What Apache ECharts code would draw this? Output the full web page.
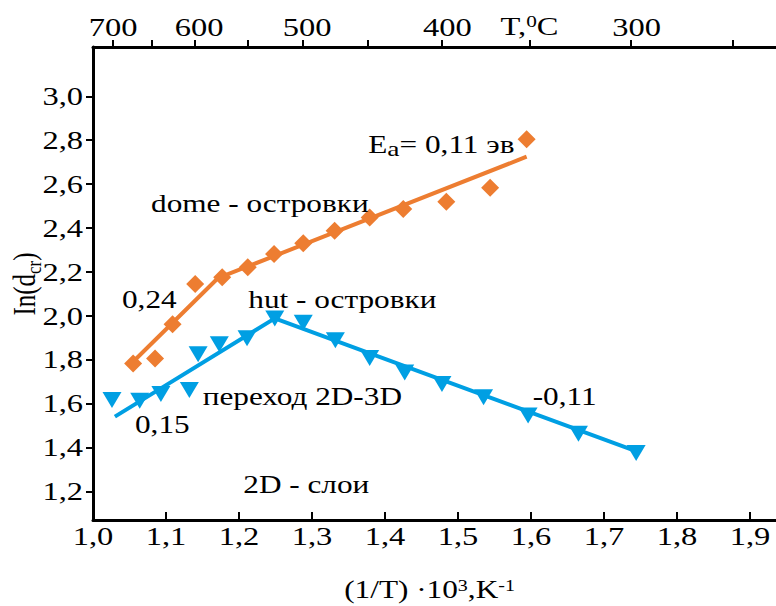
<!DOCTYPE html>
<html><head><meta charset="utf-8">
<script src="https://cdn.jsdelivr.net/npm/echarts@6.0.0/dist/echarts.min.js"></script>
<style>html,body{margin:0;padding:0;background:#fff;}#chart{width:776px;height:606px;}</style>
</head><body><div id="chart"></div>
<script>
// ---- tick labels ----
const xTickValues = [1.0, 1.1, 1.2, 1.3, 1.4, 1.5, 1.6, 1.7, 1.8, 1.9];
const xTickLabels = ['1,0', '1,1', '1,2', '1,3', '1,4', '1,5', '1,6', '1,7', '1,8', '1,9'];
const yTickValues = [1.2, 1.4, 1.6, 1.8, 2.0, 2.2, 2.4, 2.6, 2.8, 3.0];
const yTickLabels = ['1,2', '1,4', '1,6', '1,8', '2,0', '2,2', '2,4', '2,6', '2,8', '3,0'];
// top temperature axis (°C): tick marks as drawn, labels
const topTickPositions = [1.027, 1.081, 1.140, 1.212, 1.288, 1.377, 1.478, 1.598, 1.737, 1.876];
const topLabelTemps = [700, 600, 500, 400, 300];
const topUnitTickPosition = 1.598;

// ---- series: dome islands (orange diamonds) ----
const domeX = [1.055, 1.085, 1.109, 1.140, 1.177, 1.212, 1.248, 1.288, 1.331, 1.379, 1.425, 1.484, 1.544, 1.594];
const domeY = [1.782, 1.805, 1.961, 2.145, 2.175, 2.221, 2.281, 2.331, 2.387, 2.448, 2.487, 2.520, 2.584, 2.805];
// ---- series: hut islands / 2D layers (blue triangles) ----
const hutX = [1.026, 1.064, 1.093, 1.132, 1.144, 1.173, 1.211, 1.249, 1.288, 1.332, 1.379, 1.427, 1.478, 1.535, 1.596, 1.665, 1.744];
const hutY = [1.616, 1.613, 1.643, 1.661, 1.825, 1.870, 1.897, 1.988, 1.968, 1.888, 1.807, 1.741, 1.689, 1.628, 1.545, 1.462, 1.374];
// ---- fitted Arrhenius segments ----
const domeFitX = [1.049, 1.171, 1.594];
const domeFitY = [1.771, 2.171, 2.725];
const hutFitX = [1.030, 1.249, 1.740];
const hutFitY = [1.540, 1.988, 1.388];

// ---- axis ranges ----
const X_MIN = 1.0, X_MAX = 1.9356;
const Y_MIN = 1.069, Y_MAX = 3.225;

const ORANGE = '#ED7D31';
const BLUE = '#009FE3';
const FONT = '"Liberation Serif", "DejaVu Serif", serif';
const SX = 1.25;

const zip = (a, b) => a.map((v, i) => [v, b[i]]);
const lineStyleAxis = { color: '#000', width: 3 };
const tickStyle = { color: '#000', width: 2 };

const option = {
  animation: false,
  backgroundColor: '#fff',
  grid: { left: 93, right: 0, top: 47, bottom: 86, containLabel: false },
  xAxis: [
    {
      type: 'value', position: 'bottom', min: X_MIN, max: X_MAX,
      axisLine: { show: true, onZero: false, lineStyle: lineStyleAxis },
      axisTick: { show: true, inside: true, length: 8, lineStyle: tickStyle, customValues: xTickValues },
      axisLabel: { show: false }, splitLine: { show: false }
    },
    {
      type: 'value', position: 'top', min: X_MIN, max: X_MAX,
      axisLine: { show: true, onZero: false, lineStyle: lineStyleAxis },
      axisTick: { show: true, inside: false, length: 7, lineStyle: tickStyle, customValues: topTickPositions },
      axisLabel: { show: false }, splitLine: { show: false }
    }
  ],
  yAxis: {
    type: 'value', min: Y_MIN, max: Y_MAX,
    axisLine: { show: true, onZero: false, lineStyle: lineStyleAxis },
    axisTick: { show: true, inside: false, length: 7, lineStyle: tickStyle, customValues: yTickValues },
    axisLabel: { show: false }, splitLine: { show: false }
  },
  series: [
    { type: 'line', data: zip(domeFitX, domeFitY), symbol: 'none', lineStyle: { color: ORANGE, width: 4 }, itemStyle: { color: ORANGE }, z: 2, silent: true },
    { type: 'line', data: zip(hutFitX, hutFitY), symbol: 'none', lineStyle: { color: BLUE, width: 4 }, itemStyle: { color: BLUE }, z: 2, silent: true },
    { type: 'scatter', data: zip(domeX, domeY), symbol: 'diamond', symbolSize: 18, itemStyle: { color: ORANGE, opacity: 1 }, z: 3 },
    { type: 'scatter', data: zip(hutX, hutY), symbol: 'triangle', symbolRotate: 180, symbolSize: [19, 16], itemStyle: { color: BLUE, opacity: 1 }, z: 3 }
  ]
};

const chart = echarts.init(document.getElementById('chart'), null, { renderer: 'svg' });
chart.setOption(option);

const px = v => chart.convertToPixel({ xAxisIndex: 0 }, v);
const py = v => chart.convertToPixel({ yAxisIndex: 0 }, v);

function tok(size, lh, va, extra) {
  va = va || 'top';
  return Object.assign({ fontSize: size, fontFamily: FONT, lineHeight: lh, verticalAlign: va, textVerticalAlign: va, fill: '#000', textFill: '#000' }, extra || {});
}
function txt(x, y, text, opt) {
  opt = opt || {};
  const align = opt.align || 'left';
  const valign = opt.valign || 'middle';
  const style = {
    text: text, fill: '#000', textFill: '#000',
    fontSize: opt.size || 25, fontFamily: FONT,
    align: align, textAlign: align, verticalAlign: valign, textVerticalAlign: valign
  };
  if (opt.rich) style.rich = opt.rich;
  return {
    type: 'text', x: x, y: y, z: 100, silent: true,
    scaleX: opt.scaleX != null ? opt.scaleX : SX,
    scaleY: opt.scaleY != null ? opt.scaleY : 1,
    rotation: opt.rotation || 0,
    style: style
  };
}

const els = [];
const bottomY = py(Y_MIN);
const topY = py(Y_MAX);
const leftX = px(X_MIN);

// bottom tick labels
xTickValues.forEach((v, i) => els.push(txt(px(v), bottomY + 16, xTickLabels[i], { align: 'center', size: 26 })));
// left tick labels
yTickValues.forEach((v, i) => els.push(txt(leftX - 10, py(v), yTickLabels[i], { align: 'right', size: 26 })));
// top temperature labels (1000/T, T in K)
topLabelTemps.forEach(t => els.push(txt(px(1000 / (t + 273.15)), topY - 20, String(t), { align: 'center', size: 26 })));
// top unit label T,°C
els.push(txt(px(topUnitTickPosition), topY - 21, '{n|T,}{p|0}{n|C}', {
  align: 'center', size: 26,
  rich: { n: tok(26, 26), p: tok(17, 17) }
}));
// x axis name
els.push(txt(px(1.461), bottomY + 70, '{n|(1/T) ·10}{p|3}{n|,K}{p|-1}', {
  align: 'center', size: 25,
  rich: { n: tok(25, 25), p: tok(16, 16) }
}));
// y axis name (rotated)
els.push(txt(27, 284, '{n|In(d}{s|cr}{n|)}', {
  align: 'center', size: 25, rotation: Math.PI / 2, scaleX: 1, scaleY: SX,
  rich: { n: tok(25, 25), s: tok(17, 28.7, 'bottom') }
}));

// annotations: [x, baseline y] in data units
function note(x, y, text, rich) {
  const base = py(y);
  if (rich) {
    els.push(txt(px(x), base - 20.9, text, { valign: 'top', rich: rich }));
  } else {
    els.push(txt(px(x), base - 8.4, text, {}));
  }
}
note(1.3771, 2.743, '{n|E}{s|a}{n|= 0,11 эв}', { n: tok(25, 25), s: tok(22, 27.5, 'bottom') });
note(1.0795, 2.474, 'dome - островки');
note(1.0397, 2.034, '0,24');
note(1.2127, 2.034, 'hut - островки');
note(1.0575, 1.464, '0,15');
note(1.1503, 1.593, 'переход 2D-3D');
note(1.6023, 1.593, '-0,11');
note(1.2059, 1.191, '2D - слои');

chart.setOption({ graphic: { elements: els } });
</script>
</body></html>
